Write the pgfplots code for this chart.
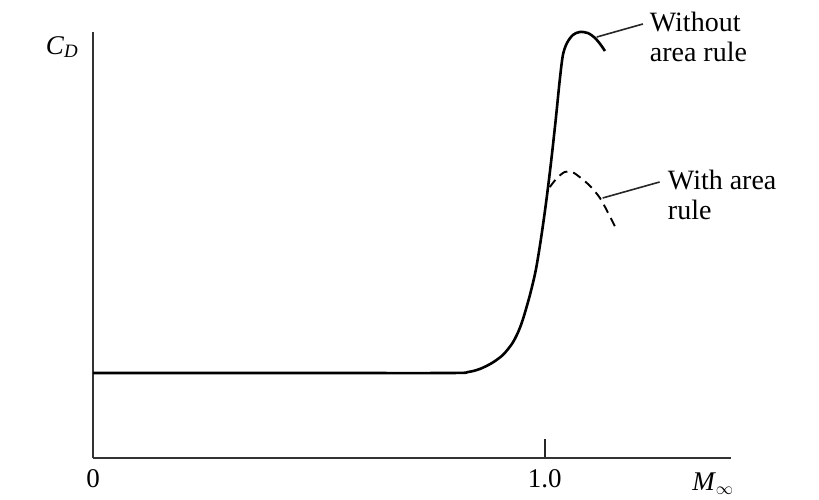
\documentclass[border=0pt]{standalone}
\usepackage{pgfplots}
\pgfplotsset{compat=1.18}
\usepackage{fontspec}
\setmainfont{Liberation Serif}
\begin{document}
\begin{tikzpicture}
\useasboundingbox (0,0) rectangle (819pt,500pt);
\begin{axis}[
  at={(93pt,42pt)}, anchor=south west,
  scale only axis, width=638pt, height=426pt,
  xmin=0, xmax=1.412, ymin=0, ymax=4.26,
  axis x line*=bottom, axis y line*=left,
  axis line style={-, line width=1.8pt, black!80},
  xtick={0,1}, xticklabels={0,1.0}, ytick=\empty,
  tick align=inside, major tick length=19pt,
  tick style={line width=1.6pt, black!85},
  xticklabel style={font=\fontsize{27}{30}\selectfont, yshift=-8pt},
  clip=false,
]
\addplot[black, line width=2.6pt, smooth, tension=0.5] coordinates {
(0,0.85) (0.458,0.85) (0.790,0.85) (0.830,0.86) (0.856,0.89) (0.883,0.95)
(0.907,1.03) (0.927,1.14) (0.940,1.25) (0.951,1.38) (0.967,1.63) (0.980,1.88)
(0.991,2.18) (1.002,2.53) (1.013,2.93) (1.024,3.38) (1.033,3.78) (1.040,4.03)
(1.049,4.15) (1.062,4.23) (1.077,4.26) (1.095,4.25) (1.111,4.20) (1.124,4.13)
(1.133,4.07)
};
\addplot[black, line width=1.9pt, dash pattern=on 9pt off 6pt, smooth] coordinates {
(1.011,2.71) (1.027,2.80) (1.044,2.86) (1.060,2.86) (1.077,2.81) (1.100,2.72)
(1.122,2.60) (1.139,2.46) (1.159,2.28)
};
\draw[line width=1.6pt, black!85] (axis cs:1.115,4.21) -- (axis cs:1.217,4.34);
\draw[line width=1.6pt, black!85] (axis cs:1.128,2.60) -- (axis cs:1.254,2.76);
\node[anchor=north west, align=left, font=\fontsize{28}{30}\selectfont, inner sep=0pt]
  at (axis cs:1.232,4.46) {Without\\area rule};
\node[anchor=north west, align=left, font=\fontsize{28}{30}\selectfont, inner sep=0pt]
  at (axis cs:1.272,2.88) {With area\\rule};
\end{axis}
\node[font=\fontsize{27}{30}\selectfont] at (62pt,453pt) {\textit{C}\textsubscript{\textit{D}}};
\node[font=\fontsize{27}{30}\selectfont] at (713pt,16pt) {\textit{M}\textsubscript{$\infty$}};
\end{tikzpicture}
\end{document}
